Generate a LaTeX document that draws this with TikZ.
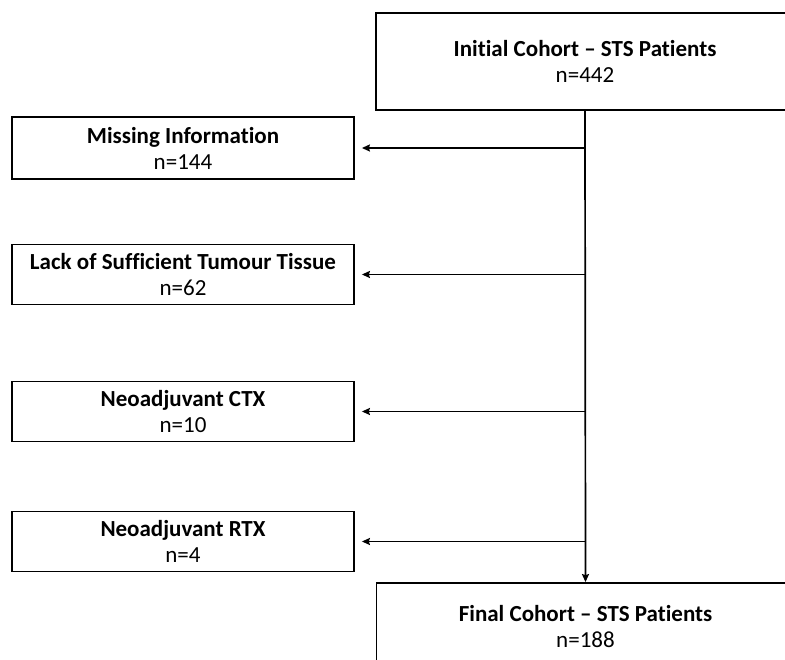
\documentclass[tikz,border=0pt]{standalone}
\usepackage{fontspec}
\setmainfont{Carlito}[Ligatures={NoCommon,NoContextual}]
\usetikzlibrary{arrows.meta}
\begin{document}
\begin{tikzpicture}[x=1pt,y=-1pt,
  box/.style={draw, line width=1.8pt, inner sep=0pt, align=center,
    font=\fontsize{23}{26}\selectfont},
  arr/.style={line width=1.7pt, -{Stealth[length=8pt,width=7pt,inset=1pt]}}]
\useasboundingbox (0,0) rectangle (785,660);
\node[box, minimum width=418pt, minimum height=97pt] (init) at (585,61.5)
  {\textbf{Initial Cohort – STS Patients}\\n=442};
\node[box, minimum width=342pt, minimum height=62pt] (miss) at (183,148)
  {\textbf{Missing Information}\\n=144};
\node[box, minimum width=342pt, minimum height=60pt] (lack) at (183,274.5)
  {\textbf{Lack of Sufficient Tumour Tissue}\\n=62};
\node[box, minimum width=342pt, minimum height=60pt] (ctx) at (183,411.5)
  {\textbf{Neoadjuvant CTX}\\n=10};
\node[box, minimum width=342pt, minimum height=60pt] (rtx) at (183,541.5)
  {\textbf{Neoadjuvant RTX}\\n=4};
\node[box, minimum width=418pt, minimum height=88pt] (final) at (585.5,627)
  {\textbf{Final Cohort – STS Patients}\\n=188};
\coordinate (b1) at (585,148);
\coordinate (b2) at (585,274.5);
\coordinate (b3) at (585,411.5);
\coordinate (b4) at (585,541.5);
\draw[arr] (init.south) -- (final.north);
\draw[arr, shorten >=7pt] (b1) -- (miss.east);
\draw[arr, shorten >=7pt] (b2) -- (lack.east);
\draw[arr, shorten >=7pt] (b3) -- (ctx.east);
\draw[arr, shorten >=7pt] (b4) -- (rtx.east);
\end{tikzpicture}
\end{document}
